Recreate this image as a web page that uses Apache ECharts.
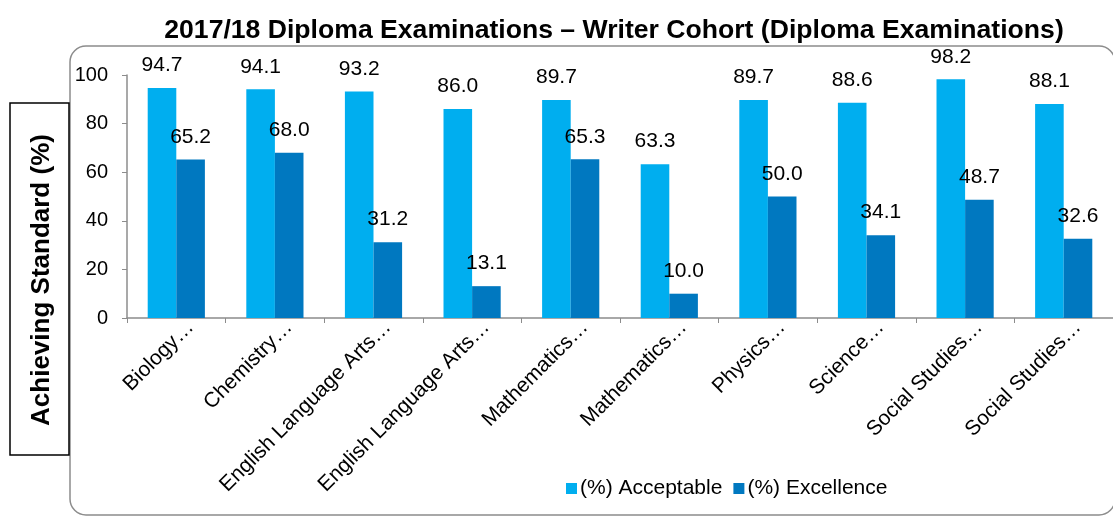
<!DOCTYPE html>
<html>
<head>
<meta charset="utf-8">
<title>2017/18 Diploma Examinations – Writer Cohort</title>
<script src="https://cdn.jsdelivr.net/npm/echarts@6/dist/echarts.min.js"></script>
<style>
  html, body { margin: 0; padding: 0; background: #fff; }
  #chart { width: 1113px; height: 517px; }
</style>
</head>
<body>
<div id="chart"></div>
<script>
// Course names as printed under the axis
const categories = [
  'Biology…', 'Chemistry…', 'English Language Arts…', 'English Language Arts…',
  'Mathematics…', 'Mathematics…', 'Physics…', 'Science…',
  'Social Studies…', 'Social Studies…'
];
// Percent of writers achieving each standard
const acceptable = [94.7, 94.1, 93.2, 86.0, 89.7, 63.3, 89.7, 88.6, 98.2, 88.1];
const excellence = [65.2, 68.0, 31.2, 13.1, 65.3, 10.0, 50.0, 34.1, 48.7, 32.6];
const seriesNames = ['(%) Acceptable', '(%) Excellence'];
const yTicks = { min: 0, max: 100, step: 20 };

const FONT = '"Liberation Sans", Arial, sans-serif';

const chart = echarts.init(document.getElementById('chart'), null, { renderer: 'canvas' });

const valueLabel = {
  show: true,
  position: 'top',
  distance: 12,
  color: '#000',
  fontSize: 21,
  fontFamily: FONT,
  formatter: p => p.value.toFixed(1)
};

chart.setOption({
  animation: false,
  backgroundColor: '#fff',
  title: {
    text: '2017/18 Diploma Examinations – Writer Cohort (Diploma Examinations)',
    left: 609,
    textAlign: 'center',
    top: 12,
    textStyle: { fontFamily: FONT, fontWeight: 'bold', fontSize: 26.6, color: '#000' }
  },
  graphic: [
    {
      // rounded frame around the plot
      type: 'rect',
      z: -1,
      shape: { x: 70, y: 46, width: 1045, height: 469, r: 16 },
      style: { fill: 'none', stroke: '#8c8c8c', lineWidth: 1.5 }
    },
    {
      // boxed y-axis caption
      type: 'rect',
      shape: { x: 10, y: 103, width: 59, height: 352 },
      style: { fill: '#fff', stroke: '#000', lineWidth: 1.5 }
    },
    {
      type: 'text',
      x: 42,
      y: 280,
      rotation: Math.PI / 2,
      style: {
        text: 'Achieving Standard (%)',
        fontFamily: FONT,
        fontWeight: 'bold',
        fontSize: 26,
        fill: '#000',
        align: 'center',
        verticalAlign: 'middle'
      }
    }
  ],
  legend: {
    data: seriesNames,
    left: 561,
    top: 473,
    itemWidth: 11,
    itemHeight: 11,
    itemGap: 11,
    icon: 'rect',
    textStyle: { fontFamily: FONT, fontSize: 21, color: '#000', padding: [0, 0, 0, -2] }
  },
  grid: { left: 127, top: 75, bottom: 199, right: -10, containLabel: false },
  xAxis: {
    type: 'category',
    data: categories,
    axisLine: { lineStyle: { color: '#8c8c8c', width: 1.5 } },
    axisTick: { show: true, length: 5, lineStyle: { color: '#8c8c8c' } },
    axisLabel: {
      rotate: 45,
      interval: 0,
      margin: -8,
      verticalAlign: 'top',
      lineHeight: 40,
      color: '#000',
      fontFamily: FONT,
      fontSize: 21
    }
  },
  yAxis: {
    type: 'value',
    min: yTicks.min,
    max: yTicks.max,
    interval: yTicks.step,
    axisLine: { show: true, lineStyle: { color: '#8c8c8c', width: 1.5 } },
    axisTick: { show: true, length: 5, lineStyle: { color: '#8c8c8c' } },
    splitLine: { show: false },
    axisLabel: { margin: 19, color: '#000', fontFamily: FONT, fontSize: 20 }
  },
  series: [
    {
      name: seriesNames[0],
      type: 'bar',
      data: acceptable,
      barGap: '0%',
      barCategoryGap: '42%',
      itemStyle: { color: '#00AEEF' },
      label: valueLabel
    },
    {
      name: seriesNames[1],
      type: 'bar',
      data: excellence,
      itemStyle: { color: '#0078C0' },
      label: valueLabel
    }
  ]
});
</script>
</body>
</html>
